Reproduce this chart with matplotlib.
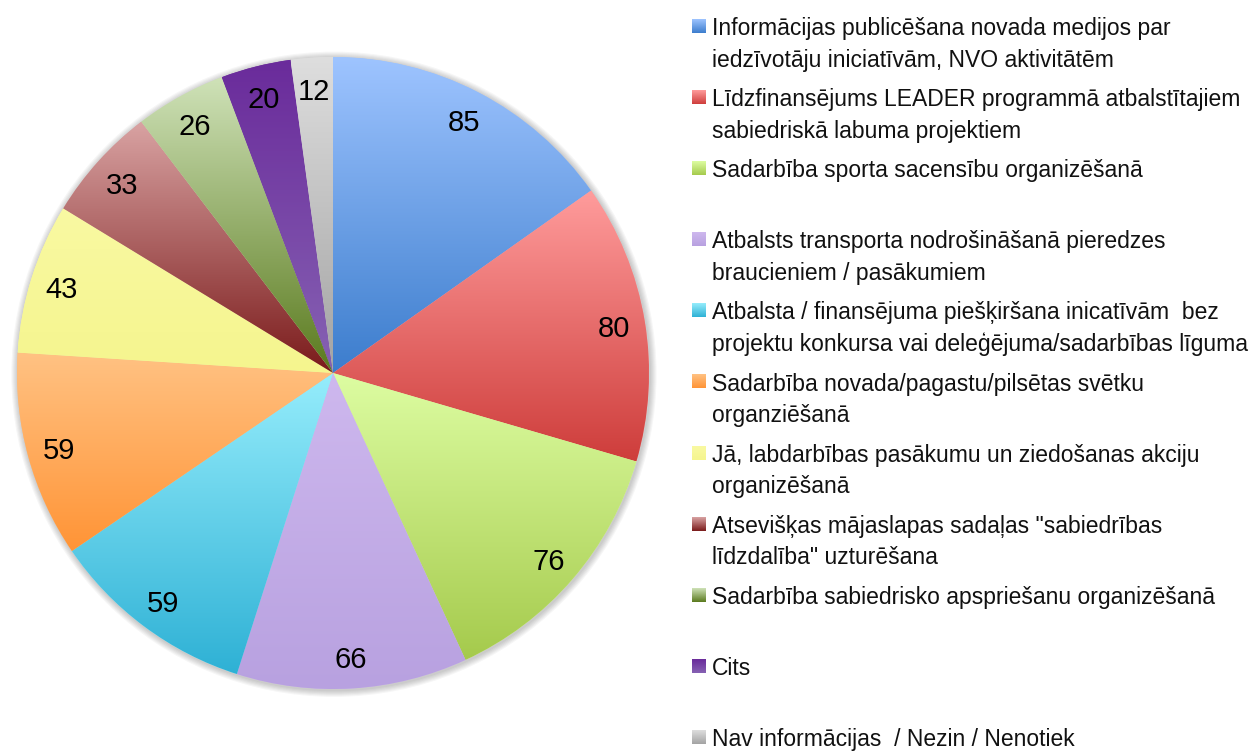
import numpy as np
import matplotlib
matplotlib.use('Agg')
import matplotlib.pyplot as plt
from matplotlib.colors import to_rgb
from matplotlib.patches import Circle

labels = [
    ['Informācijas publicēšana novada medijos par', 'iedzīvotāju iniciatīvām, NVO aktivitātēm'],
    ['Līdzfinansējums LEADER programmā atbalstītajiem', 'sabiedriskā labuma projektiem'],
    ['Sadarbība sporta sacensību organizēšanā'],
    ['Atbalsts transporta nodrošināšanā pieredzes', 'braucieniem / pasākumiem'],
    ['Atbalsta / finansējuma piešķiršana inicatīvām  bez', 'projektu konkursa vai deleģējuma/sadarbības līguma'],
    ['Sadarbība novada/pagastu/pilsētas svētku', 'organziēšanā'],
    ['Jā, labdarbības pasākumu un ziedošanas akciju', 'organizēšanā'],
    ['Atsevišķas mājaslapas sadaļas "sabiedrības', 'līdzdalība" uzturēšana'],
    ['Sadarbība sabiedrisko apspriešanu organizēšanā'],
    ['Cits'],
    ['Nav informācijas  / Nezin / Nenotiek'],
]
values = [85, 80, 76, 66, 59, 59, 43, 33, 26, 20, 12]
# (top colour, bottom colour) of each slice's vertical gradient
colors_top = ['#9EC4FF', '#FF9C9C', '#DDFDA2', '#CEB8EE', '#96EDFC', '#FFC283',
              '#F9F9A2', '#D9A3A3', '#CFE2B8', '#6A2B9B', '#DEDEDE']
colors_bot = ['#3C7DCD', '#CE3D3B', '#A5CA4C', '#B8A1E0', '#2EB1D5', '#FF9436',
              '#F5F58E', '#7A1A1A', '#5A7A1E', '#8662B3', '#A3A3A3']

W, H = 1260, 751
fig = plt.figure(figsize=(12.6, 7.51), dpi=100)
font = ['Liberation Sans', 'DejaVu Sans']


def gradient(c1, c2, n=256):
    a = np.array(to_rgb(c1))
    b = np.array(to_rgb(c2))
    t = np.linspace(0, 1, n)[:, None]
    return (a * (1 - t) + b * t)[:, None, :]


# pie axes: centre (333, 373) px, radius 316 px
cx, cy, r = 333, 373, 316
ax = fig.add_axes([(cx - r) / W, (H - cy - r) / H, 2 * r / W, 2 * r / H])
total = sum(values)
wedges, texts, autotexts = ax.pie(
    values, startangle=90, counterclock=False, colors=colors_top,
    autopct=lambda p: f'{p * total / 100:.0f}', pctdistance=0.9,
    wedgeprops=dict(linewidth=0))
# soft shadow round the pie
for k in range(6):
    ax.add_patch(Circle((0.003, -0.004), 1.0 + 0.0035 * (k + 1), color='black',
                        alpha=0.035, zorder=0, lw=0, clip_on=False))
for w, c1, c2 in zip(wedges, colors_top, colors_bot):
    w.set_zorder(1)
    bb = w.get_path().get_extents()
    im = ax.imshow(gradient(c1, c2), extent=[bb.x0, bb.x1, bb.y0, bb.y1],
                   origin='upper', aspect='auto', zorder=2, interpolation='bilinear')
    im.set_clip_path(w)
for t in autotexts:
    t.set_fontsize(21)
    t.set_family(font)
    t.set_color('black')
    t.set_verticalalignment('center_baseline')
    t.set_zorder(5)
ax.set_xlim(-1.0, 1.0)
ax.set_ylim(-1.0, 1.0)
ax.set_aspect('equal')
ax.axis('off')

# legend drawn in pixel coordinates
lg = fig.add_axes([0, 0, 1, 1])
lg.set_xlim(0, W)
lg.set_ylim(H, 0)
lg.axis('off')
for i, (lines, c1, c2) in enumerate(zip(labels, colors_top, colors_bot)):
    base = 35 + 71.1 * i
    lg.imshow(gradient(c1, c2), extent=[692, 706, base - 2, base - 16],
              aspect='auto', interpolation='bilinear')
    for j, line in enumerate(lines):
        lg.text(712, base + 31.5 * j, line, fontsize=16.5, family=font,
                color='#111111', va='baseline', ha='left')
lg.set_xlim(0, W)
lg.set_ylim(H, 0)

fig.savefig('out.png', dpi=100)
